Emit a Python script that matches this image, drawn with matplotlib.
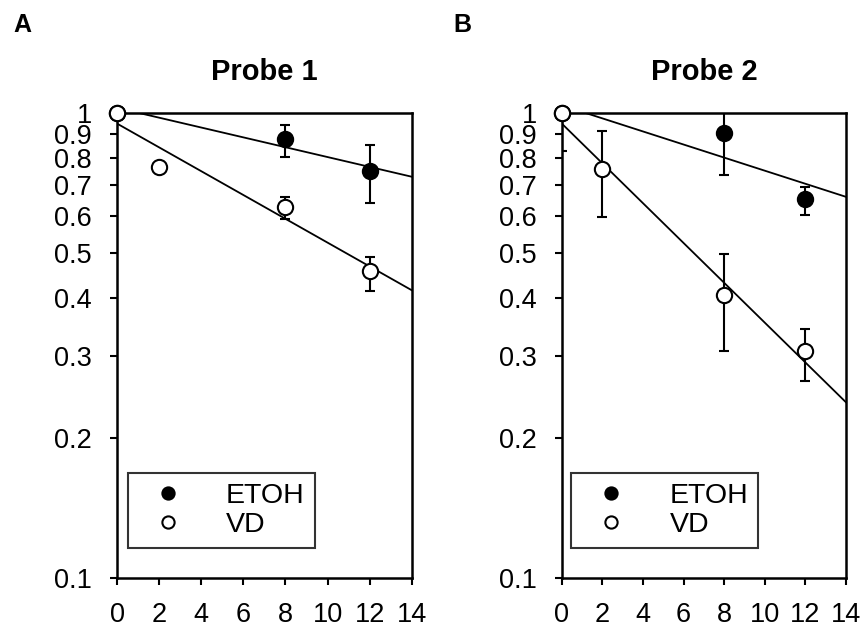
import numpy as np
import matplotlib
matplotlib.use("Agg")
import matplotlib.pyplot as plt
from matplotlib.ticker import FixedLocator, NullLocator

plt.rcParams['font.family'] = ['Liberation Sans', 'DejaVu Sans']

# time points
days = [0, 2, 8, 12]

# Probe 1 (panel A)
etoh1_x = [0, 8, 12]
etoh1_y = [1.0, 0.878, 0.751]
etoh1_lo = [0.97, 0.805, 0.641]
etoh1_hi = [1.03, 0.944, 0.856]
vd1_x = [0, 2, 8, 12]
vd1_y = [1.0, 0.767, 0.629, 0.457]
vd1_lo = [1.0, 0.767, 0.592, 0.415]
vd1_hi = [1.0, 0.767, 0.661, 0.491]
# fitted lines: value at x=0 and at x=14
fit1_etoh = [1.027, 0.730]
fit1_vd = [0.950, 0.416]

# Probe 2 (panel B)
etoh2_x = [0, 8, 12]
etoh2_y = [1.0, 0.907, 0.654]
etoh2_lo = [0.83, 0.737, 0.604]
etoh2_hi = [1.17, 1.08, 0.694]
vd2_x = [0, 2, 8, 12]
vd2_y = [1.0, 0.758, 0.406, 0.308]
vd2_lo = [1.0, 0.598, 0.308, 0.266]
vd2_hi = [1.0, 0.915, 0.499, 0.343]
fit2_etoh = [1.04, 0.661]
fit2_vd = [0.950, 0.239]

yticks = [0.1, 0.2, 0.3, 0.4, 0.5, 0.6, 0.7, 0.8, 0.9, 1.0]
ylabels = ["0.1", "0.2", "0.3", "0.4", "0.5", "0.6", "0.7", "0.8", "0.9", "1"]
xticks = [0, 2, 4, 6, 8, 10, 12, 14]

FS = 19.5


def panel(ax, title, ex, ey, elo, ehi, vx, vy, vlo, vhi, fe, fv, legx):
    ey, elo, ehi = np.array(ey), np.array(elo), np.array(ehi)
    vy, vlo, vhi = np.array(vy), np.array(vlo), np.array(vhi)
    xs = [0, 14]
    ax.plot(xs, fe, color="black", lw=1.3, zorder=2)
    ax.plot(xs, fv, color="black", lw=1.3, zorder=2)
    ax.errorbar(ex, ey, yerr=[ey - elo, ehi - ey], fmt="none", ecolor="black",
                elinewidth=1.5, capsize=3.8, capthick=1.5, zorder=3)
    ax.errorbar(vx, vy, yerr=[vy - vlo, vhi - vy], fmt="none", ecolor="black",
                elinewidth=1.5, capsize=3.8, capthick=1.5, zorder=3)
    ax.plot(ex, ey, "o", ms=11, mfc="black", mec="black", mew=1.5,
            ls="none", clip_on=False, zorder=4, label="ETOH")
    ax.plot(vx, vy, "o", ms=11, mfc="white", mec="black", mew=1.5,
            ls="none", clip_on=False, zorder=5, label="VD")
    ax.set_yscale("log")
    ax.set_ylim(0.1, 1.0)
    ax.set_xlim(0, 14)
    ax.yaxis.set_major_locator(FixedLocator(yticks))
    ax.yaxis.set_minor_locator(NullLocator())
    ax.set_yticklabels(ylabels)
    ax.set_xticks(xticks)
    ax.tick_params(direction="out", length=5, width=1.5, labelsize=FS)
    ax.tick_params(axis="y", pad=13)
    ax.tick_params(axis="x", pad=12.5)
    for s in ax.spines.values():
        s.set_linewidth(1.8)
    ax.set_title(title, fontsize=21, fontweight="bold", pad=24)
    leg = ax.legend(loc="lower left", bbox_to_anchor=(legx, 0.0645), fontsize=20.5,
                    frameon=True, fancybox=False, edgecolor="black",
                    markerscale=0.8, handletextpad=1.0, borderpad=0.35,
                    labelspacing=0.1, handlelength=2.1, borderaxespad=0)
    leg.get_frame().set_linewidth(1.5)


fig = plt.figure(figsize=(8.67, 6.29), dpi=100)
axA = fig.add_axes([0.135, 0.081, 0.340, 0.739])
axB = fig.add_axes([0.648, 0.081, 0.3276, 0.739])

panel(axA, "Probe 1", etoh1_x, etoh1_y, etoh1_lo, etoh1_hi,
      vd1_x, vd1_y, vd1_lo, vd1_hi, fit1_etoh, fit1_vd, 0.036)
panel(axB, "Probe 2", etoh2_x, etoh2_y, etoh2_lo, etoh2_hi,
      vd2_x, vd2_y, vd2_lo, vd2_hi, fit2_etoh, fit2_vd, 0.034)

fig.text(0.015, 0.949, "A", fontsize=18, fontweight="bold", va="baseline")
fig.text(0.523, 0.949, "B", fontsize=18, fontweight="bold", va="baseline")

fig.savefig("out.png", dpi=100)
